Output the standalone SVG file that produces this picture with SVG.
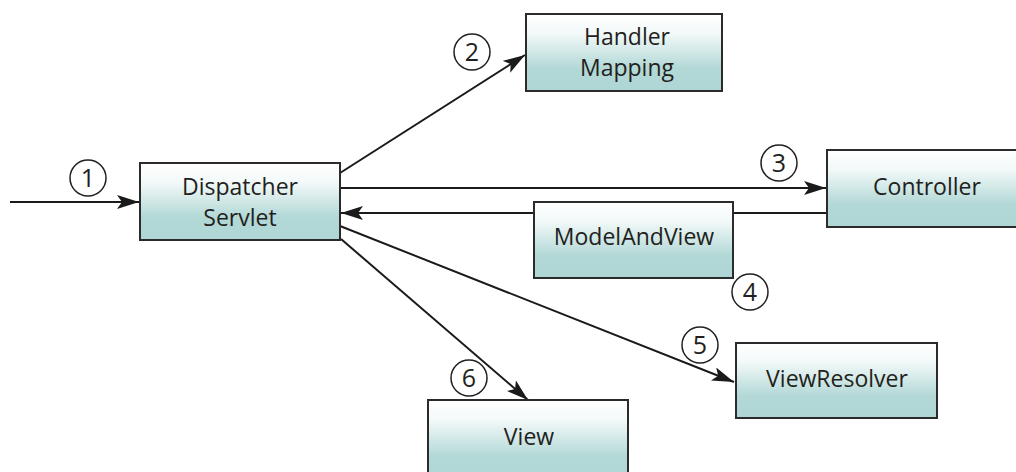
<svg xmlns="http://www.w3.org/2000/svg" width="1016" height="472" viewBox="0 0 1016 472">
<defs>
<linearGradient id="g" x1="0" y1="0" x2="0" y2="1">
<stop offset="0" stop-color="#ffffff"/>
<stop offset="0.25" stop-color="#f3f9f9"/>
<stop offset="0.7" stop-color="#b3d9d7"/>
<stop offset="1" stop-color="#aed6d4"/>
</linearGradient>
<marker id="ah" viewBox="0 0 22 14" refX="22" refY="7" markerWidth="22" markerHeight="14" markerUnits="userSpaceOnUse" orient="auto">
<path d="M0,0 L22,7 L0,14 L5,7 Z" fill="#1a1a1a"/>
</marker>
<style>
.box{fill:url(#g);stroke:#2b2b2b;stroke-width:2}
.t{font-family:"Open Sans","Liberation Sans",sans-serif;font-size:23px;fill:#231f20;text-anchor:middle}
.c{fill:none;stroke:#231f20;stroke-width:1.5}
.n{font-family:"Open Sans","Liberation Sans",sans-serif;font-size:25px;fill:#231f20;text-anchor:middle}
.l{stroke:#1a1a1a;stroke-width:2;fill:none}
</style>
</defs>
<g id="connectors">
<line class="l" x1="10" y1="202" x2="139" y2="202" marker-end="url(#ah)"/>
<line class="l" x1="340" y1="173" x2="525" y2="55" marker-end="url(#ah)"/>
<line class="l" x1="340" y1="188" x2="826" y2="188" marker-end="url(#ah)"/>
<line class="l" x1="827" y1="213" x2="733" y2="213"/>
<line class="l" x1="534" y1="213" x2="341" y2="213" marker-end="url(#ah)"/>
<line class="l" x1="340" y1="226" x2="734" y2="382" marker-end="url(#ah)"/>
<line class="l" x1="341" y1="239" x2="528" y2="400" marker-end="url(#ah)"/>
</g>
<g id="labels">
<circle class="c" cx="88" cy="178" r="18"/><text class="n" x="88" y="187">1</text>
<circle class="c" cx="472" cy="52" r="18"/><text class="n" x="472" y="61">2</text>
<circle class="c" cx="779" cy="163" r="18"/><text class="n" x="779" y="172">3</text>
<circle class="c" cx="750" cy="292" r="18"/><text class="n" x="750" y="301">4</text>
<circle class="c" cx="700" cy="345" r="18"/><text class="n" x="700" y="354">5</text>
<circle class="c" cx="469" cy="378" r="18"/><text class="n" x="469" y="387">6</text>
</g>
<g id="dispatcher">
<rect class="box" x="140" y="163" width="200" height="77"/>
<text class="t" x="240" y="195">Dispatcher</text>
<text class="t" x="240" y="226">Servlet</text>
</g>
<g id="handler">
<rect class="box" x="526" y="14" width="196" height="77"/>
<text class="t" x="627" y="45">Handler</text>
<text class="t" x="627" y="76">Mapping</text>
</g>
<g id="modelandview">
<rect class="box" x="534" y="202" width="199" height="76"/>
<text class="t" x="634" y="245">ModelAndView</text>
</g>
<g id="controller">
<rect class="box" x="827" y="150" width="200" height="77"/>
<text class="t" x="927" y="195">Controller</text>
</g>
<g id="viewresolver">
<rect class="box" x="736" y="343" width="201" height="75"/>
<text class="t" x="837" y="387">ViewResolver</text>
</g>
<g id="view">
<rect class="box" x="428" y="400" width="200" height="80"/>
<text class="t" x="529" y="445">View</text>
</g>
</svg>
